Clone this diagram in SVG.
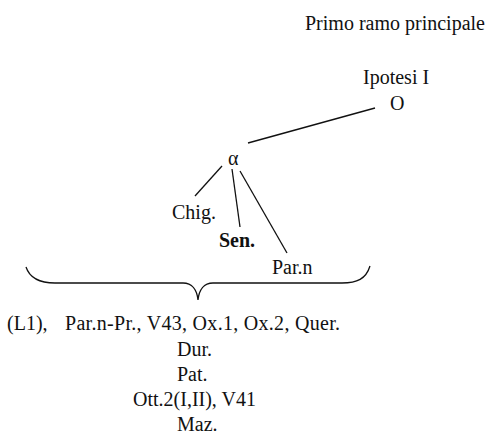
<svg xmlns="http://www.w3.org/2000/svg" width="490" height="437" viewBox="0 0 490 437">
<style>
text{font-family:"Liberation Serif","Times New Roman",serif;font-size:20px;fill:#111}
.b{font-weight:bold}
#connectors line,#connectors path{stroke:#111;stroke-width:1.3;fill:none}
</style>
<rect width="490" height="437" fill="#fff"/>
<g id="title"><text x="305" y="30">Primo ramo principale</text></g>
<g id="O"><text x="363" y="84">Ipotesi I</text><text x="390" y="110">O</text></g>
<g id="alpha"><text x="228" y="165">α</text></g>
<g id="chig"><text x="172" y="219">Chig.</text></g>
<g id="sen"><text class="b" x="219" y="247">Sen.</text></g>
<g id="parn"><text x="272" y="274">Par.n</text></g>
<g id="connectors">
<line x1="375" y1="108" x2="248" y2="143"/>
<line x1="222" y1="166" x2="195" y2="196"/>
<line x1="232" y1="169" x2="240" y2="227"/>
<line x1="240" y1="171" x2="287" y2="253"/>
<path d="M26,267 C30,279 40,283 55,283 L183,283 C192,283 197,290 198,300 C199,290 204,283 213,283 L342,283 C357,283 366,279 370,266"/>
</g>
<g id="list">
<text x="7" y="330">(L1),</text>
<text x="65" y="330" textLength="275" lengthAdjust="spacing">Par.n-Pr., V43, Ox.1, Ox.2, Quer.</text>
<text x="177" y="356">Dur.</text>
<text x="177" y="381">Pat.</text>
<text x="133" y="406">Ott.2(I,II), V41</text>
<text x="177" y="431">Maz.</text>
</g>
</svg>
